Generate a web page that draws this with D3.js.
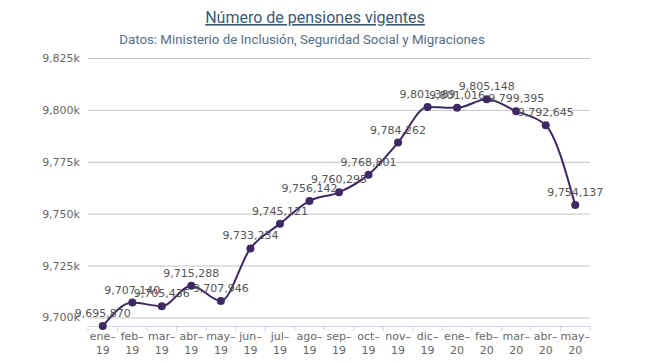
<!DOCTYPE html>
<html>
<head>
<meta charset="utf-8">
<script src="https://cdn.jsdelivr.net/npm/d3@7"></script>
<style>
	body { margin: 0; background: #fff; }
	svg text { font-family: "DejaVu Sans", sans-serif; }
	.title { font-family: Roboto, sans-serif !important; }
</style>
</head>
<body>
<div id="graphic"></div>
<script>
// categories (months) and values
const months = ['ene-19', 'feb-19', 'mar-19', 'abr-19', 'may-19', 'jun-19', 'jul-19', 'ago-19',
	'sep-19', 'oct-19', 'nov-19', 'dic-19', 'ene-20', 'feb-20', 'mar-20', 'abr-20', 'may-20'];
const pensiones = [9695870, 9707140, 9705436, 9715288, 9707946, 9733234, 9745121, 9756142,
	9760295, 9768801, 9784262, 9801389, 9801016, 9805148, 9799395, 9792645, 9754137];
const yTicks = [9700000, 9725000, 9750000, 9775000, 9800000, 9825000];

const titleText = 'Número de pensiones vigentes';
const subtitleText = 'Datos: Ministerio de Inclusión, Seguridad Social y Migraciones';

function drawGraphic() {
	const width = 645, height = 363;
	const margin = { top: 58, right: 55, bottom: 37, left: 88 };
	const chart_width = width - margin.left - margin.right;
	const chart_height = height - margin.top - margin.bottom;

	const data = months.map((m, i) => ({ month: m, value: pensiones[i] }));

	const svg = d3.select('#graphic')
		.append('svg')
		.attr('width', width)
		.attr('height', height)
		.style('background-color', '#fff');

	// title + subtitle
	svg.append('text')
		.attr('class', 'title')
		.attr('x', 315)
		.attr('y', 23)
		.attr('text-anchor', 'middle')
		.attr('fill', '#3b5a74')
		.style('font-size', '16px')
		.style('text-decoration', 'underline')
		.text(titleText);

	svg.append('text')
		.attr('class', 'title')
		.attr('x', 302)
		.attr('y', 44)
		.attr('text-anchor', 'middle')
		.attr('fill', '#557086')
		.style('font-size', '13.3px')
		.text(subtitleText);

	const g = svg.append('g')
		.attr('transform', 'translate(' + margin.left + ',' + margin.top + ')');

	const x = d3.scaleBand()
		.domain(months)
		.range([0, chart_width]);

	const y = d3.scaleLinear()
		.domain([d3.min(pensiones), d3.max(yTicks)])
		.range([chart_height, 0]);

	// gridlines + y labels
	const yAxis = d3.axisLeft(y)
		.tickValues(yTicks)
		.tickSize(-chart_width)
		.tickPadding(8)
		.tickFormat(d => d3.format(',')(d / 1000) + 'k');

	g.append('g')
		.attr('class', 'y axis')
		.call(yAxis)
		.call(s => s.select('.domain').remove())
		.call(s => s.selectAll('line').attr('stroke', '#c4c4c4'))
		.call(s => s.selectAll('text').attr('fill', '#666').style('font-size', '11px'));

	// x axis with ticks on band edges
	const xAxis = d3.axisBottom(x).tickSize(0).tickPadding(6);
	const xg = g.append('g')
		.attr('class', 'x axis')
		.attr('transform', 'translate(0,' + chart_height + ')')
		.call(xAxis);
	xg.select('.domain').attr('stroke', '#ccd6eb');
	xg.selectAll('.tick text')
		.attr('fill', '#666')
		.style('font-size', '11px')
		.each(function (d) {
			const t = d3.select(this);
			const parts = d.split('-');
			t.text(null);
			t.append('tspan').attr('x', 0).attr('dy', '0.71em').text(parts[0] + '–');
			t.append('tspan').attr('x', 0).attr('dy', '1.3em').text(parts[1]);
		});
	xg.selectAll('line.edge')
		.data(months.concat(['end']))
		.join('line')
		.attr('class', 'edge')
		.attr('x1', (d, i) => i * x.bandwidth())
		.attr('x2', (d, i) => i * x.bandwidth())
		.attr('y1', 0)
		.attr('y2', 5)
		.attr('stroke', '#ccd6eb');

	const cx = d => x(d.month) + x.bandwidth() / 2;

	// line
	const line = d3.line()
		.x(cx)
		.y(d => y(d.value))
		.curve(d3.curveMonotoneX);

	g.append('path')
		.datum(data)
		.attr('fill', 'none')
		.attr('stroke', '#3e2a63')
		.attr('stroke-width', 2)
		.attr('d', line);

	g.selectAll('circle')
		.data(data)
		.join('circle')
		.attr('cx', cx)
		.attr('cy', d => y(d.value))
		.attr('r', 4)
		.attr('fill', '#3e2a63');

	// data labels
	g.selectAll('text.dataLabels')
		.data(data)
		.join('text')
		.attr('class', 'dataLabels')
		.attr('x', cx)
		.attr('y', d => y(d.value) - 9)
		.attr('text-anchor', 'middle')
		.attr('fill', '#555')
		.style('font-size', '11px')
		.text(d => d3.format(',')(d.value));
}

drawGraphic();
</script>
</body>
</html>
